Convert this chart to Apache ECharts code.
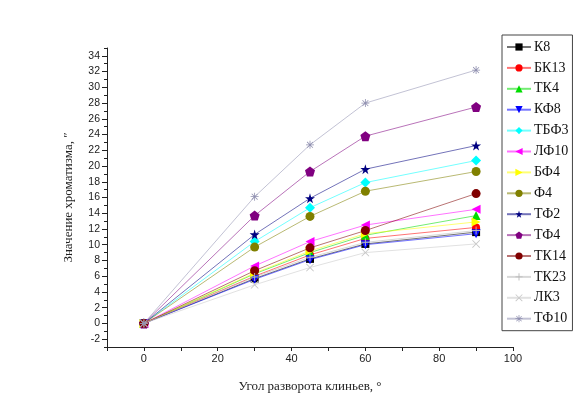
<!DOCTYPE html>
<html><head><meta charset="utf-8">
<script src="https://cdn.jsdelivr.net/npm/echarts@6/dist/echarts.min.js"></script>
<style>html,body{margin:0;padding:0;background:#fff}#c{width:580px;height:398px}</style>
</head><body><div id="c"></div>
<script>
var xs = [0, 30, 45, 60, 90];
var names = ['К8','БК13','ТК4','КФ8','ТБФ3','ЛФ10','БФ4','Ф4','ТФ2','ТФ4','ТК14','ТК23','ЛК3','ТФ10'];
var K8   = [0, 5.7, 8.2, 10.1, 11.6];
var BK13 = [0, 6.0, 8.7, 10.8, 12.2];
var TK4  = [0, 6.3, 9.0, 11.2, 13.7];
var KF8  = [0, 5.6, 8.1, 10.0, 11.4];
var TBF3 = [0, 10.4, 14.7, 17.9, 20.7];
var LF10 = [0, 7.3, 10.4, 12.5, 14.5];
var BF4  = [0, 6.4, 9.2, 11.4, 12.9];
var F4   = [0, 9.7, 13.6, 16.8, 19.3];
var TF2  = [0, 11.3, 15.9, 19.6, 22.6];
var TF4  = [0, 13.7, 19.3, 23.8, 27.5];
var TK14 = [0, 6.7, 9.6, 11.8, 16.5];
var TK23 = [0, 5.9, 8.4, 10.3, 11.8];
var LK3  = [0, 4.9, 7.1, 9.0, 10.1];
var TF10 = [0, 16.1, 22.7, 28.0, 32.2];
var values = [K8,BK13,TK4,KF8,TBF3,LF10,BF4,F4,TF2,TF4,TK14,TK23,LK3,TF10];
var yLabels = [-2,0,2,4,6,8,10,12,14,16,18,20,22,24,26,28,30,32,34];
var yMinor = [-3,-1,1,3,5,7,9,11,13,15,17,19,21,23,25,27,29,31,33,35];
var xLabels = [0,20,40,60,80,100];

var colors = ['#000000','#ff0000','#00dd00','#0000ff','#00ffff','#ff00ff','#ffff00','#808000','#000080','#800080','#800000','#b8b8b8','#c8c8c8','#9090b0'];
var star = 'path://M50,0 L61,35 L98,35 L68,57 L79,91 L50,70 L21,91 L32,57 L2,35 L39,35 Z';
var pent = 'path://M50,0 L98,36 L80,95 L20,95 L2,36 Z';
var plus = 'path://M44,0 L56,0 L56,44 L100,44 L100,56 L56,56 L56,100 L44,100 L44,56 L0,56 L0,44 L44,44 Z';
var cross = 'path://M8,0 L50,42 L92,0 L100,8 L58,50 L100,92 L92,100 L50,58 L8,100 L0,92 L42,50 L0,8 Z';
var aster = 'path://M45,0 L55,0 L55,40 L83,12 L90,19 L61,45 L100,45 L100,55 L61,55 L90,83 L83,90 L55,61 L55,100 L45,100 L45,61 L17,90 L10,83 L39,55 L0,55 L0,45 L39,45 L10,17 L17,10 L45,39 Z';
var symbols = ['rect','circle','triangle','triangle','diamond','triangle','triangle','circle','star','pent','circle','plus','cross','aster'];
var symMap = {rect:'rect',circle:'circle',triangle:'triangle',diamond:'diamond',star:star,pent:pent,plus:plus,cross:cross,aster:aster};
var rotations = [0,0,0,180,0,90,-90,0,0,0,0,0,0,0];
var sizes = [8,8,9,9,10,9,9,9,10,10,9,8,8,8];

var series = names.map(function(n,i){
  return {
    name: n, type: 'line',
    data: xs.map(function(x,j){ return [x, values[i][j]]; }),
    symbol: symMap[symbols[i]], symbolRotate: rotations[i], symbolSize: sizes[i],
    itemStyle: {color: colors[i]},
    lineStyle: {width: 1, color: colors[i], opacity: 0.55},
    z: 2 + i
  };
});

var chart = echarts.init(document.getElementById('c'));
chart.setOption({
  animation: false,
  backgroundColor: '#fff',
  grid: {left: 107, top: 48, width: 406, height: 300, containLabel: false},
  legend: {
    orient: 'vertical', left: 502, top: 35,
    itemWidth: 24, itemHeight: 9, itemGap: 6.9,
    padding: [5, 4, 5, 4],
    borderColor: '#444', borderWidth: 1,
    textStyle: {fontFamily: 'Liberation Serif', fontSize: 14, color: '#111', padding: [0,0,0,-2]},
    data: names
  },
  xAxis: {
    type: 'value', min: -10, max: 100, interval: 10,
    name: 'Угол разворота клиньев, °', nameLocation: 'middle', nameGap: 33,
    nameTextStyle: {fontFamily: 'Liberation Serif', fontSize: 13, color: '#222'},
    axisLine: {show: true, onZero: false, lineStyle: {color: '#222', width: 1}},
    axisTick: {show: true, length: 4, lineStyle: {color: '#222'}},
    axisLabel: {customValues: xLabels, fontFamily: 'Liberation Sans', fontSize: 11, color: '#222', margin: 6},
    splitLine: {show: false}
  },
  yAxis: [{
    type: 'value', min: -3, max: 35,
    name: 'Значение хроматизма, \u2033', nameLocation: 'middle', nameGap: 32,
    nameTextStyle: {fontFamily: 'Liberation Serif', fontSize: 13, color: '#222'},
    axisLine: {show: true, onZero: false, lineStyle: {color: '#222', width: 1}},
    axisTick: {show: true, customValues: yLabels, length: 5, lineStyle: {color: '#222'}},
    axisLabel: {customValues: yLabels, fontFamily: 'Liberation Sans', fontSize: 10.5, color: '#222', margin: 7},
    splitLine: {show: false}
  },{
    type: 'value', min: -3, max: 35, position: 'left', offset: 0,
    axisLine: {show: false, onZero: false},
    axisTick: {show: true, customValues: yMinor, length: 3, lineStyle: {color: '#222'}},
    axisLabel: {show: false},
    splitLine: {show: false}
  }],
  series: series
});
</script></body></html>
